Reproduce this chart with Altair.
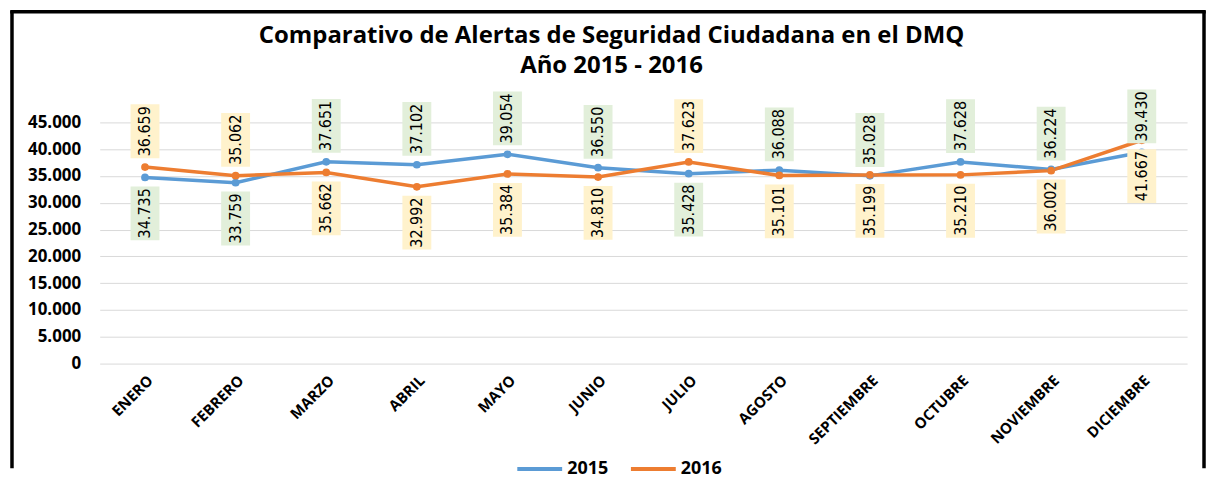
import altair as alt
import pandas as pd

months = ["ENERO", "FEBRERO", "MARZO", "ABRIL", "MAYO", "JUNIO", "JULIO",
          "AGOSTO", "SEPTIEMBRE", "OCTUBRE", "NOVIEMBRE", "DICIEMBRE"]
series = ["2015", "2016"]
alerts_2015 = [34735, 33759, 37651, 37102, 39054, 36550, 35428, 36088, 35028, 37628, 36224, 39430]
alerts_2016 = [36659, 35062, 35662, 32992, 35384, 34810, 37623, 35101, 35199, 35210, 36002, 41667]
# which series has its data label above the line for each month
label_on_top = ["2016", "2016", "2015", "2015", "2015", "2015", "2016",
                "2015", "2015", "2015", "2015", "2015"]
y_ticks = [0, 5000, 10000, 15000, 20000, 25000, 30000, 35000, 40000, 45000]

rows = []
for i, m in enumerate(months):
    for s, vals in (("2015", alerts_2015), ("2016", alerts_2016)):
        v = vals[i]
        rows.append({
            "mes": m,
            "serie": s,
            "valor": v,
            "etiqueta": f"{v:,}".replace(",", "."),
            "pos": "top" if label_on_top[i] == s else "bottom",
        })
df = pd.DataFrame(rows)

W, H = 1091, 242
LINE_COLORS = ["#5B9BD5", "#ED7D31"]
LABEL_FONT = "Liberation Sans Narrow, DejaVu Sans Condensed, sans-serif"
AXIS_FONT = "Open Sans"

x_enc = alt.X(
    "mes:N", sort=months,
    scale=alt.Scale(type="point", padding=0.5),
    axis=alt.Axis(title=None, labelAngle=-45, labelFont=AXIS_FONT, labelFontWeight="bold",
                  labelFontSize=15, labelColor="#000000", ticks=False, domain=False,
                  grid=False, labelPadding=9),
)
y_enc = alt.Y(
    "valor:Q",
    scale=alt.Scale(domain=[0, 45000], nice=False),
    axis=alt.Axis(title=None, values=y_ticks,
                  labelExpr="replace(format(datum.value, ','), ',', '.')",
                  grid=True, gridColor="#d9d9d9", gridWidth=1, domain=False, ticks=False,
                  tickSize=0, labelPadding=19, labelFont=AXIS_FONT, labelFontWeight="bold",
                  labelFontSize=17, labelColor="#000000"),
)
legend = alt.Legend(title=None, orient="none", legendX=417, legendY=323, direction="horizontal",
                    symbolType="stroke", symbolStrokeWidth=4, symbolSize=2025,
                    labelFont=AXIS_FONT, labelFontWeight="bold", labelFontSize=18,
                    labelColor="#000000", columnPadding=14, labelOffset=3)
color_enc = alt.Color("serie:N", scale=alt.Scale(domain=series, range=LINE_COLORS), legend=legend)

base = alt.Chart(df)

lines = base.mark_line(strokeWidth=3.5).encode(x=x_enc, y=y_enc, color=color_enc)
points = base.mark_point(filled=True, size=60, opacity=1).encode(x=x_enc, y=y_enc, color=color_enc)

box_fill = alt.condition(alt.datum.serie == "2015", alt.value("#E2EFDA"), alt.value("#FFF2CC"))
BOX = "M-0.537,-1H0.537V1H-0.537Z"


def label_layers(pos, off):
    sub = base.transform_filter(alt.datum.pos == pos)
    boxes = sub.mark_point(shape=BOX, size=2916, filled=True, opacity=1, strokeWidth=0,
                           yOffset=off).encode(x=x_enc, y=y_enc, fill=box_fill)
    texts = sub.mark_text(angle=270, font=LABEL_FONT, fontSize=16, color="#000000",
                          align="center", baseline="middle", yOffset=off).encode(
        x=x_enc, y=y_enc, text="etiqueta:N")
    return [boxes, texts]


# chart frame: left, top and right edges (bottom edge lies below the picture)
one = alt.Chart(pd.DataFrame({"f": [0]}))
frame_style = dict(stroke="#000000", strokeWidth=3.5)
frame_left = one.mark_rule(**frame_style).encode(
    x=alt.value(-88), y=alt.value(-112), y2=alt.value(H + 105))
frame_right = one.mark_rule(**frame_style).encode(
    x=alt.value(W + 17), y=alt.value(-112), y2=alt.value(H + 105))
frame_top = one.mark_rule(**frame_style).encode(
    x=alt.value(-89.75), x2=alt.value(W + 18.75), y=alt.value(-111))

chart = alt.layer(
    frame_left, frame_right, frame_top, lines, points,
    *label_layers("top", -36), *label_layers("bottom", 36),
).properties(
    width=W, height=H, padding=0, background="white",
    title=alt.Title(
        text=["Comparativo de Alertas de Seguridad Ciudadana en el DMQ", "Año 2015 - 2016"],
        font=AXIS_FONT, fontSize=24, fontWeight="bold", color="#000000",
        anchor="middle", dx=-32, offset=-69, lineHeight=30,
    ),
).configure_view(stroke=None)

chart.save("out.html", embed_options={"renderer": "svg", "actions": False})
